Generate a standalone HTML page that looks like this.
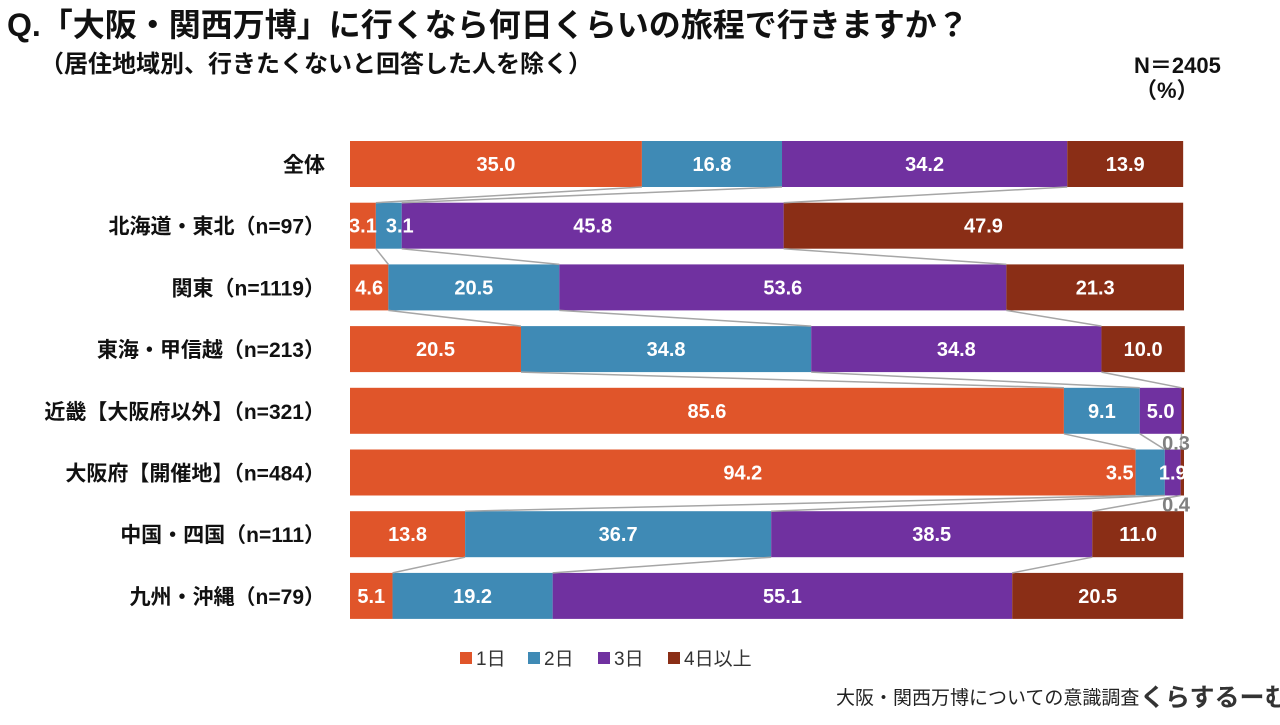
<!DOCTYPE html>
<html><head><meta charset="utf-8">
<style>
body{margin:0;width:1280px;height:720px;background:#fff;overflow:hidden;font-family:"Liberation Sans","Noto Sans CJK JP",sans-serif;}
svg text{font-family:"Liberation Sans","Noto Sans CJK JP",sans-serif;}
</style></head>
<body>
<svg id="chart" width="1280" height="720">
<text x="7" y="36" font-size="32" font-weight="bold" fill="#111">Q.「大阪・関西万博」に行くなら何日くらいの旅程で行きますか？</text>
<text x="40" y="72" font-size="24" font-weight="bold" fill="#111">（居住地域別、行きたくないと回答した人を除く）</text>
<text x="1134" y="73" font-size="22" font-weight="bold" fill="#111">N＝2405</text>
<text x="1135" y="98" font-size="22" font-weight="bold" fill="#111">（%）</text>
<g id="bars"></g>
<g id="labels"></g>
<g id="legend"></g>
<text x="836" y="704" font-size="19" fill="#222">大阪・関西万博についての意識調査</text>
<text x="1140" y="706" font-size="25" font-weight="bold" fill="#333">くらするーむ</text>
</svg>
<script>
const categories=["全体","北海道・東北（n=97）","関東（n=1119）","東海・甲信越（n=213）","近畿【大阪府以外】（n=321）","大阪府【開催地】（n=484）","中国・四国（n=111）","九州・沖縄（n=79）"];
const seriesNames=["1日","2日","3日","4日以上"];
const day1=[35.0,3.1,4.6,20.5,85.6,94.2,13.8,5.1];
const day2=[16.8,3.1,20.5,34.8,9.1,3.5,36.7,19.2];
const day3=[34.2,45.8,53.6,34.8,5.0,1.9,38.5,55.1];
const day4=[13.9,47.9,21.3,10.0,0.3,0.4,11.0,20.5];
const colors=["#E0552A","#3F8AB5","#7031A0","#8A2E16"];
const NS="http://www.w3.org/2000/svg";
const x0=350,x1=1184,top0=141,step=61.7,bh=46;
const xs=v=>x0+(x1-x0)*v/100;
const ys=i=>top0+i*step;
const g=document.getElementById('bars');
const gl=document.getElementById('labels');
function mk(t,a){const e=document.createElementNS(NS,t);for(const k in a)e.setAttribute(k,a[k]);return e;}
const series=[day1,day2,day3,day4];
const cums=[];
categories.forEach((c,i)=>{
  const y=ys(i);
  const lab=mk('text',{x:325,y:y+bh/2+8,'font-size':21,'font-weight':'bold','text-anchor':'end',fill:'#111'});
  lab.textContent=c;
  
  
  gl.appendChild(lab);
  let cum=0;const cc=[0];
  series.forEach((s,k)=>{
    const v=s[i];
    const a=xs(cum),b=xs(cum+v);
    const r=mk('rect',{x:a,y:y,width:b-a,height:bh,fill:colors[k]});
    
    
    g.appendChild(r);
    let t;
    const prevW=k>0?(xs(cum)-xs(cum-series[k-1][i])):0;
    if(v<1){
      t=mk('text',{x:1176,y:y+bh+16,'font-size':20,'font-weight':'bold','text-anchor':'middle',fill:'#808080'});
    }else if(b-a<32&&k===1&&prevW>100){
      t=mk('text',{x:a-2,y:y+bh/2+7,'font-size':20,'font-weight':'bold','text-anchor':'end',fill:'#fff'});
    }else if(b-a<32&&k===1){
      t=mk('text',{x:a+10,y:y+bh/2+7,'font-size':20,'font-weight':'bold','text-anchor':'start',fill:'#fff'});
    }else{
      t=mk('text',{x:(a+b)/2,y:y+bh/2+7,'font-size':20,'font-weight':'bold','text-anchor':'middle',fill:'#fff'});
    }
    t.textContent=v.toFixed(1);
    
    
    gl.appendChild(t);
    cum+=v;cc.push(cum);
  });
  cums.push(cc);
});
for(let i=0;i<categories.length-1;i++){
  for(let k=1;k<=3;k++){
    const l=mk('line',{x1:xs(cums[i][k]),y1:ys(i)+bh,x2:xs(cums[i+1][k]),y2:ys(i+1),stroke:'#A6A6A6','stroke-width':1.5});
    
    
    g.appendChild(l);
  }
}
const lg=document.getElementById('legend');
const lx=[460,528,598,668];
seriesNames.forEach((n,k)=>{
  const r=mk('rect',{x:lx[k],y:652,width:12,height:12,fill:colors[k]});
  
  
  lg.appendChild(r);
  const t=mk('text',{x:lx[k]+16,y:665,'font-size':19,fill:'#333'});
  t.textContent=n;
  
  
  lg.appendChild(t);
});
</script>
</body></html>
